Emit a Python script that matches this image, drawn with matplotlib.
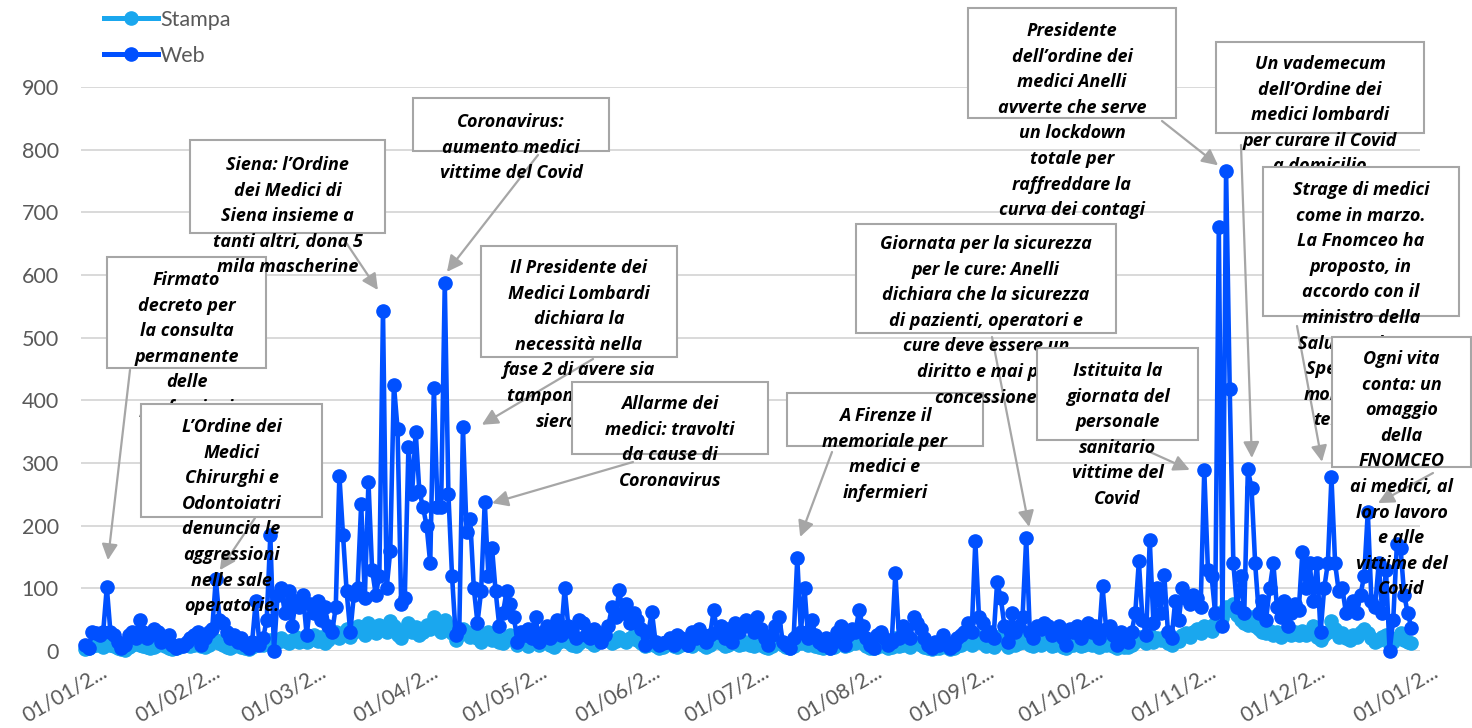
import matplotlib
matplotlib.use('Agg')
import matplotlib.pyplot as plt
import matplotlib.dates as mdates
import matplotlib.transforms as mtransforms
from matplotlib.patches import Rectangle
from matplotlib.lines import Line2D
import pandas as pd

plt.rcParams['font.family'] = ['Lato', 'DejaVu Sans']

W, H = 1472, 728

# daily values, 2020
dates = pd.date_range('2020-01-01', '2020-12-31', freq='D')

web_jan = [10, 5, 30, 28, 25, 30, 102, 30, 25, 15, 5, 10, 25, 30, 20, 50, 30, 20, 25, 35, 30, 15, 20, 25, 10, 5, 10, 8, 15, 20, 25]
web_feb = [30, 10, 20, 30, 35, 115, 50, 45, 30, 20, 25, 15, 20, 10, 5, 15, 80, 10, 20, 50, 185, 0, 90, 100, 60, 95, 40, 80, 70]
web_mar = [90, 25, 75, 60, 80, 50, 70, 40, 30, 70, 280, 185, 95, 30, 90, 100, 235, 85, 270, 130, 90, 120, 543, 100, 160, 425, 355, 75, 85, 325, 250]
web_apr = [350, 255, 230, 200, 140, 420, 230, 230, 587, 250, 120, 25, 35, 357, 190, 210, 100, 45, 95, 238, 120, 165, 95, 40, 60, 95, 75, 55, 15, 30]
web_may = [25, 35, 20, 55, 15, 30, 40, 20, 30, 50, 25, 100, 40, 30, 20, 50, 45, 25, 20, 35, 30, 15, 25, 40, 70, 55, 97, 60, 75, 45, 60]
web_jun = [50, 35, 10, 30, 62, 15, 10, 12, 15, 20, 10, 25, 20, 15, 10, 30, 20, 35, 25, 15, 25, 65, 30, 40, 20, 35, 15, 45, 30, 40]
web_jul = [50, 40, 30, 55, 35, 20, 10, 25, 40, 55, 15, 10, 5, 20, 148, 30, 100, 20, 50, 25, 15, 10, 20, 5, 15, 30, 40, 10, 25, 35, 30]
web_aug = [65, 40, 20, 10, 5, 25, 30, 20, 10, 15, 125, 20, 40, 35, 20, 55, 45, 35, 20, 10, 5, 15, 10, 25, 15, 5, 10, 20, 25, 30, 45]
web_sep = [30, 175, 55, 45, 25, 30, 20, 110, 85, 40, 15, 60, 30, 40, 55, 180, 30, 20, 40, 35, 45, 40, 25, 30, 40, 20, 10, 35, 30, 40]
web_oct = [20, 35, 45, 30, 40, 20, 103, 35, 40, 25, 10, 30, 20, 15, 30, 60, 143, 50, 25, 177, 45, 100, 60, 121, 30, 20, 80, 50, 100, 85, 75]
web_nov = [90, 85, 70, 289, 130, 120, 60, 677, 40, 766, 418, 140, 70, 120, 60, 290, 260, 140, 60, 80, 50, 100, 140, 70, 55, 80, 40, 60, 75, 65]
web_dec = [158, 100, 140, 80, 140, 30, 100, 140, 277, 140, 95, 100, 60, 70, 80, 60, 90, 120, 222, 80, 70, 140, 60, 130, 0, 50, 170, 165, 90, 60, 37]

stampa_jan = [3, 5, 8, 10, 12, 6, 15, 10, 8, 5, 3, 2, 6, 9, 12, 10, 8, 6, 4, 7, 10, 12, 8, 5, 3, 4, 6, 9, 11, 8, 10]
stampa_feb = [12, 8, 6, 10, 14, 18, 12, 9, 7, 5, 8, 10, 6, 4, 3, 7, 10, 12, 9, 14, 18, 10, 15, 20, 16, 12, 18, 22, 15]
stampa_mar = [20, 14, 18, 25, 16, 22, 12, 18, 25, 30, 20, 28, 35, 22, 30, 40, 32, 25, 45, 38, 28, 42, 35, 30, 48, 40, 25, 20, 35, 45, 30]
stampa_apr = [38, 25, 30, 42, 35, 55, 45, 30, 50, 40, 28, 18, 25, 35, 30, 22, 28, 20, 15, 25, 30, 18, 22, 15, 12, 20, 25, 18, 10, 15]
stampa_may = [12, 8, 15, 20, 10, 14, 18, 9, 6, 12, 16, 20, 14, 10, 8, 12, 18, 22, 15, 10, 14, 20, 25, 18, 12, 16, 22, 18, 14, 20, 25]
stampa_jun = [18, 12, 8, 10, 15, 8, 5, 6, 10, 12, 8, 6, 9, 14, 10, 8, 12, 15, 10, 7, 9, 14, 18, 12, 8, 10, 15, 12, 9, 11]
stampa_jul = [14, 10, 8, 12, 9, 6, 4, 8, 12, 15, 10, 6, 4, 8, 25, 12, 18, 9, 12, 8, 6, 5, 7, 4, 6, 10, 12, 8, 10, 14, 12]
stampa_aug = [16, 12, 8, 5, 4, 6, 10, 8, 5, 7, 20, 8, 10, 12, 6, 14, 12, 9, 6, 4, 3, 5, 4, 8, 6, 3, 5, 8, 10, 12, 15]
stampa_sep = [10, 25, 14, 12, 8, 10, 7, 22, 18, 12, 6, 14, 10, 12, 15, 28, 10, 8, 12, 10, 14, 12, 8, 10, 12, 7, 5, 10, 9, 12]
stampa_oct = [8, 10, 14, 9, 12, 7, 18, 10, 12, 8, 5, 9, 7, 6, 10, 15, 22, 18, 12, 25, 15, 20, 18, 22, 12, 10, 20, 16, 25, 28, 22]
stampa_nov = [30, 35, 28, 40, 38, 32, 45, 60, 52, 70, 65, 75, 58, 50, 45, 42, 55, 40, 35, 30, 28, 32, 25, 30, 22, 28, 35, 26, 30, 25]
stampa_dec = [32, 25, 28, 40, 22, 18, 26, 30, 48, 35, 22, 28, 20, 18, 25, 22, 30, 35, 28, 20, 15, 18, 22, 25, 10, 14, 20, 28, 18, 15, 12]

web = (web_jan + web_feb + web_mar + web_apr + web_may + web_jun +
       web_jul + web_aug + web_sep + web_oct + web_nov + web_dec)
stampa = (stampa_jan + stampa_feb + stampa_mar + stampa_apr + stampa_may + stampa_jun +
          stampa_jul + stampa_aug + stampa_sep + stampa_oct + stampa_nov + stampa_dec)

series_names = ['Stampa', 'Web']
y_ticks = list(range(0, 1000, 100))
tick_dates = pd.date_range('2020-01-01', '2021-01-01', freq='MS')
tick_labels = [d.strftime('%d/%m') + '/2...' for d in tick_dates]

# annotation texts (in drawing order)
notes = [
    ['Firmato', 'decreto per', 'la consulta', 'permanente', 'delle', 'professioni'],
    ['L\u2019Ordine dei', 'Medici', 'Chirurghi e', 'Odontoiatri', 'denuncia le',
     'aggressioni', 'nelle sale', 'operatorie.'],
    ['Siena: l\u2019Ordine', 'dei Medici di', 'Siena insieme a', 'tanti altri, dona 5',
     'mila mascherine'],
    ['Coronavirus:', 'aumento medici', 'vittime del Covid'],
    ['Il Presidente dei', 'Medici Lombardi', 'dichiara la', 'necessit\u00e0 nella',
     'fase 2 di avere sia', 'tamponi che test', 'sierologici'],
    ['Allarme dei', 'medici: travolti', 'da cause di', 'Coronavirus'],
    ['A Firenze il', 'memoriale per', 'medici e', 'infermieri'],
    ['Giornata per la sicurezza', 'per le cure: Anelli', 'dichiara che la sicurezza',
     'di pazienti, operatori e', 'cure deve essere un', 'diritto e mai pi\u00f9',
     'concessione'],
    ['Istituita la', 'giornata del', 'personale', 'sanitario', 'vittime del', 'Covid'],
    ['Presidente', 'dell\u2019ordine dei', 'medici Anelli', 'avverte che serve',
     'un lockdown', 'totale per', 'raffreddare la', 'curva dei contagi'],
    ['Un vademecum', 'dell\u2019Ordine dei', 'medici lombardi', 'per curare il Covid',
     'a domicilio'],
    ['Strage di medici', 'come in marzo.', 'La Fnomceo ha', 'proposto, in',
     'accordo con il', 'ministro della', 'Salute Roberto', 'Speranza, un',
     'monitoraggio', 'tempestivo'],
    ['Ogni vita', 'conta: un', 'omaggio', 'della', 'FNOMCEO', 'ai medici, al',
     'loro lavoro', 'e alle', 'vittime del', 'Covid'],
]
# layout of each note in pixels: box (x0, y0, x1, y1), first line y, arrow start,
# arrow tip as (day of year, value)
note_box = [(107, 257, 266, 368), (141, 404, 322, 517), (190, 140, 385, 233),
            (413, 98, 609, 151), (481, 246, 677, 357), (572, 382, 768, 454),
            (787, 393, 983, 446), (856, 224, 1116, 333), (1037, 348, 1198, 440),
            (968, 8, 1176, 118), (1216, 42, 1424, 133), (1263, 167, 1459, 316),
            (1332, 337, 1471, 467)]
note_first = [280, 427, 165, 122, 268, 404, 416, 244, 371, 31, 64, 190, 359]
note_start = [(130, 370), (255, 518), (343, 238), (538, 155), (593, 359), (633, 462),
              (832, 452), (992, 337), (1150, 452), (1162, 121), (1241, 145),
              (1297, 326), (1433, 473)]
note_tip = [(6.3, 145), (37.1, 129), (80.6, 576), (99.6, 605), (109.2, 361),
            (112.0, 236), (196.8, 182), (259.8, 198), (304.0, 289), (311.8, 775),
            (321.1, 308), (340.4, 302), (355.8, 236)]

STAMPA_COLOR = '#1AA7EE'
WEB_COLOR = '#0050FF'
GREY = '#595959'
ARROW = '#A6A6A6'
LINE_STEP = 25.6
NOTE_FONT = ['Open Sans', 'DejaVu Sans']

fig = plt.figure(figsize=(W / 100, H / 100), dpi=100)
ax = fig.add_axes([81 / W, 1 - 651 / H, (1420 - 81) / W, (651 - 87) / H])

px_per_day = 3.634
x0 = mdates.date2num(dates[0])
ax.set_xlim(x0 - 4 / px_per_day, x0 + (1420 - 85) / px_per_day)
ax.set_ylim(0, 900)

for vals, col in [(stampa, STAMPA_COLOR), (web, WEB_COLOR)]:
    ax.plot(dates, vals, color=col, lw=3.3, marker='o', ms=9.5,
            clip_on=False, zorder=3)

ax.set_yticks(y_ticks)
ax.yaxis.grid(True, color='#D9D9D9', lw=1.4)
ax.set_axisbelow(True)
for s in ax.spines.values():
    s.set_visible(False)
ax.tick_params(axis='both', length=0, labelsize=15.5, labelcolor=GREY)
ax.tick_params(axis='y', pad=16)

ax.set_xticks(mdates.date2num(tick_dates))
ax.set_xticklabels(tick_labels, rotation=30, ha='right', va='top',
                   rotation_mode='anchor', fontsize=15)
ax.tick_params(axis='x', pad=8)
offset = mtransforms.ScaledTranslation(16 / 100, 0, fig.dpi_scale_trans)
for lab in ax.get_xticklabels():
    lab.set_transform(lab.get_transform() + offset)

handles = [Line2D([], [], color=c, lw=3.6, marker='o', ms=9.5)
           for c in [STAMPA_COLOR, WEB_COLOR]]
leg = fig.legend(handles, series_names, loc='upper left',
                 bbox_to_anchor=(104 / W, 1 - 10 / H), frameon=False, fontsize=15.5,
                 handlelength=2.5, handletextpad=0.1, labelspacing=0.72,
                 borderpad=0, borderaxespad=0)
for t in leg.get_texts():
    t.set_color(GREY)


def fx(x):
    return x / W


def fy(y):
    return 1 - y / H


for i, lines in enumerate(notes):
    bx0, by0, bx1, by1 = note_box[i]
    fig.patches.append(Rectangle((fx(bx0), fy(by1)), (bx1 - bx0) / W, (by1 - by0) / H,
                                 transform=fig.transFigure, facecolor='white',
                                 edgecolor=ARROW, lw=1.5, zorder=10 + 2 * i))
    cx = (bx0 + bx1) / 2
    for k, line in enumerate(lines):
        fig.text(fx(cx), fy(note_first[i] + k * LINE_STEP), line, ha='center', va='center',
                 family=NOTE_FONT, fontsize=13, fontweight='bold', fontstyle='italic',
                 color='black', zorder=11 + 2 * i)
    day, val = note_tip[i]
    sx, sy = note_start[i]
    ax.annotate('', xy=(x0 + day, val), xycoords='data',
                xytext=(fx(sx), fy(sy)), textcoords='figure fraction',
                arrowprops=dict(arrowstyle='-|>', color=ARROW, lw=1.6,
                                mutation_scale=24, shrinkA=0, shrinkB=0),
                annotation_clip=False, zorder=5)

fig.savefig('out.png', dpi=100)
